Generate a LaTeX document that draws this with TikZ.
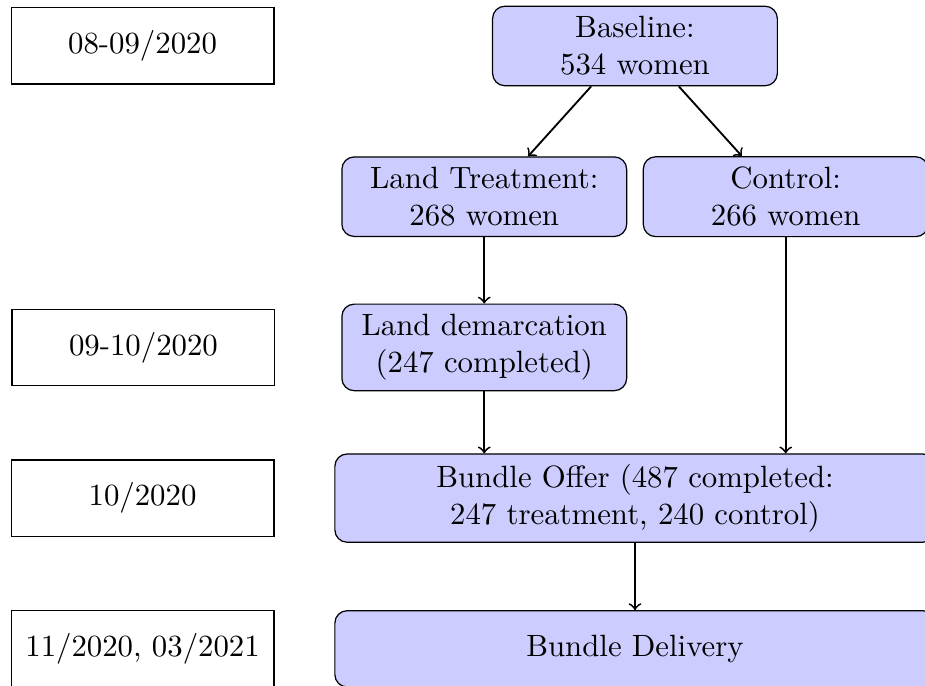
\documentclass[tikz,border=0pt]{standalone}
\usetikzlibrary{positioning}
\usetikzlibrary{arrows}

\begin{document}
\begin{tikzpicture}[->,semithick,node distance=1.72cm,nodes={draw,thin},
	datebox/.style={minimum width=3cm, minimum height=0.87cm},
	stagebox/.style={fill=blue!20, rounded corners, align=center, minimum width=3.25cm},
	widebox/.style={stagebox, minimum width=6.85cm}]
	\useasboundingbox (-7.247,0.525) rectangle (3.31,-7.304);
	\node (base) [stagebox] {Baseline:\\534 women};
	\node (lt) [stagebox, below of = base, xshift=-1.72cm] {Land Treatment:\\268 women};
	\node (ctrl) [stagebox, below of = base, xshift=1.72cm] {Control:\\266 women};
	\node (ld) [stagebox, below of = lt] {Land demarcation\\(247 completed)};
	\node (bo) [widebox, below of = ld, xshift=1.72cm] {Bundle Offer (487 completed:\\247 treatment, 240 control)};
	\node (bd) [widebox, below of = bo, minimum height=0.87cm] {Bundle Delivery};
	
	\node (d1) [datebox, left of = base, node distance=5.62cm] {08-09/2020};
	\node (d2) [datebox, left of = ld, node distance=3.89cm] {09-10/2020};
	\node (d3) [datebox, left of = bo, node distance=5.62cm] {10/2020};
	\node (d4) [datebox, left of = bd, node distance=5.62cm] {11/2020, 03/2021};
	
	\draw ([xshift=-0.5cm]base.south) -> ([xshift=0.5cm]lt.north);
	\draw ([xshift=0.5cm]base.south) -> ([xshift=-0.5cm]ctrl.north);
	\draw (lt) -> (ld);
	\draw (ld.south) -> (ld.south |- bo.north);
	\draw (ctrl.south) -> (ctrl.south |- bo.north);
	\draw (bo) -> (bd);
\end{tikzpicture}
\end{document}
